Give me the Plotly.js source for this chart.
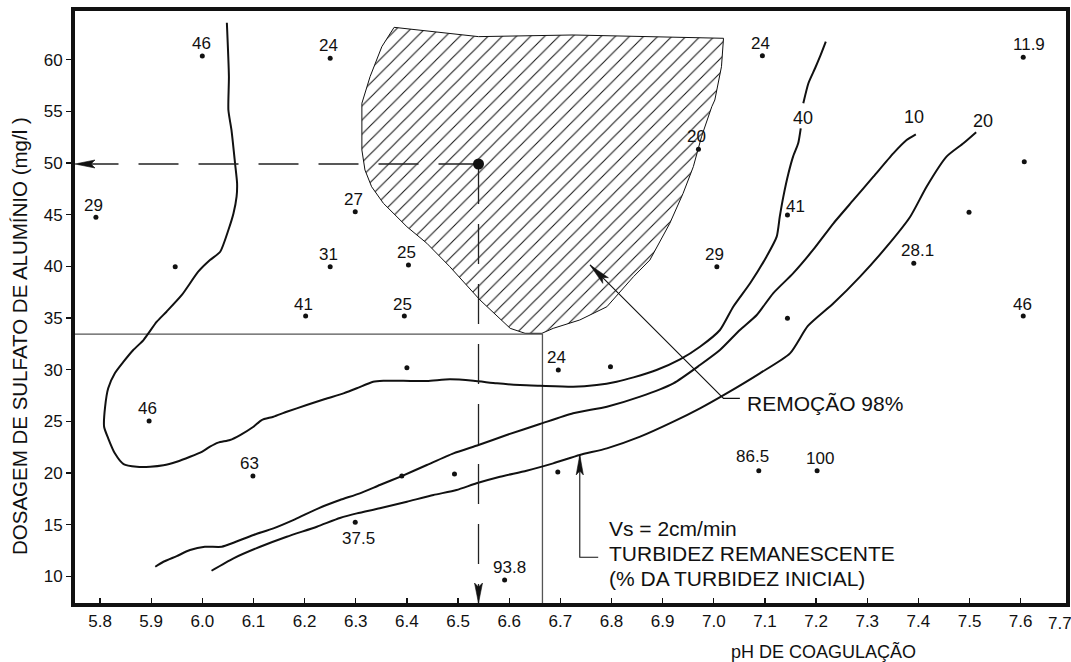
<!DOCTYPE html>
<html><head><meta charset="utf-8">
<script src="https://cdn.plot.ly/plotly-3.0.1.min.js"></script>
<style>html,body{margin:0;padding:0;background:#fff}#chart{width:1071px;height:662px}</style>
</head><body><div id="chart"></div>
<script>
// ---------- data ----------
const xTicks = [5.8,5.9,6.0,6.1,6.2,6.3,6.4,6.5,6.6,6.7,6.8,6.9,7.0,7.1,7.2,7.3,7.4,7.5,7.6];
const xTickLabels = ['5.8','5.9','6.0','6.1','6.2','6.3','6.4','6.5','6.6','6.7','6.8','6.9','7.0','7.1','7.2','7.3','7.4','7.5','7.6'];
const yTicks = [10,15,20,25,30,35,40,45,50,55,60];
const yTickLabels = ['10','15','20','25','30','35','40','45','50','55','60'];

// experimental points: pH, dose, remaining turbidity (%)
const pointPH   = [6.000,6.250,5.792,5.947,6.299,6.250,6.202,6.403,6.395,6.970,7.006,7.095,7.605,7.607,7.144,7.499,7.391,7.605,7.144,5.896,6.099,6.299,6.400,6.696,6.798,6.390,6.493,6.695,6.591,7.088,7.202];
const pointDose = [60.35,60.13,44.74,39.96,45.29,39.96,35.19,40.13,35.19,51.32,39.96,60.38,60.22,50.12,44.97,45.23,40.29,35.19,34.97,25.03,19.71,15.23,30.19,29.97,30.29,19.71,19.91,20.10,9.65,20.23,20.23];
const pointLabels = ['46','24','29','','27','31','41','25','25','20','29','24','11.9','','41','','28.1','46','','46','63','37.5','','24','','','','','93.8','86.5','100'];

// iso-turbidity curve 40 %
const curve40PH   = [6.048,6.052,6.051,6.057,6.064,6.068,6.067,6.061,6.051,6.035,6.015,5.992,5.960,5.930,5.911,5.885,5.865,5.846,5.829,5.816,5.810,5.808,5.816,5.829,5.846,5.872,5.898,5.924,5.950,5.976,5.999,6.015,6.031,6.054,6.074,6.100,6.116,6.139,6.165,6.204,6.240,6.276,6.302,6.334,6.354,6.393,6.439,6.484,6.530,6.576,6.621,6.660,6.725,6.771,6.810,6.843,6.888,6.934,6.973,7.012,7.038,7.071,7.103,7.123,7.129,7.136,7.146,7.155,7.165,7.170,null,7.175,7.185,7.198,7.209,7.219];
const curve40Dose = [63.57,58.35,55.12,53.19,49.97,48.03,46.74,45.13,43.51,41.41,40.61,39.48,37.23,35.61,34.64,32.87,31.90,30.77,29.65,28.20,26.42,24.48,23.36,21.91,20.87,20.61,20.61,20.75,21.10,21.58,22.06,22.55,22.94,23.20,23.68,24.48,25.13,25.45,25.93,26.58,27.16,27.71,28.20,28.84,28.93,28.93,28.90,29.07,28.93,28.68,28.52,28.45,28.35,28.52,28.84,29.26,29.97,31.00,32.22,33.84,36.09,38.36,40.93,42.87,44.80,46.74,49.00,50.61,51.90,53.35,null,55.77,57.71,59.16,60.45,61.73];

// iso-turbidity curve 10 %
const curve10PH   = [5.908,5.924,5.950,5.976,6.005,6.038,6.061,6.100,6.139,6.181,6.227,6.269,6.308,6.347,6.390,6.439,6.491,6.540,6.595,6.660,6.725,6.791,6.856,6.921,6.973,7.012,7.051,7.084,7.116,7.155,7.194,7.234,7.273,7.312,7.351,7.377,7.395];
const curve10Dose = [10.94,11.42,11.97,12.55,12.87,12.87,13.26,14.01,14.65,15.52,16.59,17.39,18.04,18.84,19.71,20.78,21.91,22.71,23.68,24.74,25.78,26.42,27.39,28.68,30.45,31.90,33.84,35.29,37.39,39.32,41.58,44.16,46.42,48.67,50.93,52.22,52.77];

// iso-turbidity curve 20 %
const curve20PH   = [6.018,6.061,6.113,6.165,6.224,6.269,6.302,6.347,6.400,6.452,6.497,6.536,6.582,6.634,6.686,6.738,6.791,6.856,6.921,6.973,7.025,7.090,7.149,7.184,7.234,7.286,7.338,7.384,7.416,7.455,7.488,7.513];
const curve20Dose = [10.55,11.75,12.87,13.84,14.81,15.65,16.10,16.59,17.23,17.88,18.36,19.01,19.65,20.23,20.94,21.75,22.39,23.52,24.97,26.26,27.71,29.65,31.58,34.23,36.42,39.00,41.90,44.80,47.70,50.61,51.90,52.97];

const curveNames = ['40','10','20'];
const curveLabelPH   = [7.174,7.391,7.526];
const curveLabelDose = [54.32,54.48,54.09];

// region of 98 % removal
const zonePH   = [6.375,6.540,6.725,7.019,7.015,7.002,6.996,6.976,6.960,6.940,6.914,6.875,6.843,6.791,6.738,6.686,6.664,6.631,6.602,6.543,6.484,6.439,6.400,6.354,6.331,6.318,6.312,6.312,6.328,6.351,6.375];
const zoneDose = [63.12,62.22,62.38,62.06,59.31,56.09,55.44,52.54,49.64,47.06,44.16,40.61,39.00,36.09,34.81,34.00,33.52,33.52,34.00,36.74,39.96,42.23,43.83,46.10,47.70,49.32,51.25,55.77,58.35,61.25,63.12];

// optimum point and reading lines
const optimumPH = 6.54, optimumDose = 49.9;
const readPH = 6.665, readDose = 33.45;

// annotation pointers
const removalPtrPH = [7.051,7.019,6.758], removalPtrDose = [27.23,27.23,40.13];
const turbPtrPH = [6.774,6.738,6.738],   turbPtrDose = [11.85,11.85,21.75];

// ---------- layout helpers (positions/styles) ----------
const W = 1071, H = 662, M = {l:75, r:5, t:11, b:59};
const xRange = [5.7511, 7.6886];
const yRange = [7.43, 64.70];
const sx = (W - M.l - M.r) / (xRange[1] - xRange[0]);   // px per pH unit
const sy = (H - M.t - M.b) / (yRange[1] - yRange[0]);   // px per mg/l
const labelShift = [[-1,12],[-2,12.5],[-2,12],[0,0],[-2,12],[-2,12],[-2,12],[-2,12.5],[-2,12],[-2,12.5],[-2,12],[-2,12.5],[6,13],[0,0],[8,8],[0,0],[4,12.5],[-1,12],[0,0],[-2,12.5],[-3,12.5],[3,-16.5],[0,0],[-2,12.5],[0,0],[0,0],[0,0],[0,0],[5,12.5],[-6,14.5],[3,12.5]];
const FONT = 'Liberation Sans, Arial, sans-serif';
const INK = '#111';

// narrow notched arrowhead (pixel size) at tip, pointing away from 'from'
function arrowHead(tx, ty, fx, fy, L, hw) {
  let dx = (tx - fx) * sx, dy = (ty - fy) * sy;
  const len = Math.hypot(dx, dy); dx /= len; dy /= len;
  const nx = -dy, ny = dx;
  const pts = [[0,0], [-L*dx + hw*nx, -L*dy + hw*ny], [-0.8*L*dx, -0.8*L*dy], [-L*dx - hw*nx, -L*dy - hw*ny], [0,0]];
  return {x: pts.map(p => tx + p[0]/sx), y: pts.map(p => ty + p[1]/sy), mode:'lines', fill:'toself',
    fillcolor:INK, line:{color:INK, width:0.6}, hoverinfo:'skip'};
}

const traces = [];
// hatched region
traces.push({x: zonePH, y: zoneDose, mode:'lines', fill:'toself', fillcolor:'white',
  fillpattern:{shape:'/', size:10, solidity:0.1, fgcolor:INK, bgcolor:'white'},
  line:{color:INK, width:1}, hoverinfo:'skip'});
// thin reading lines
traces.push({x:[xRange[0], readPH, readPH], y:[readDose, readDose, yRange[0]], mode:'lines',
  line:{color:'#555', width:1.3}, hoverinfo:'skip'});
// curves
[[curve40PH,curve40Dose],[curve10PH,curve10Dose],[curve20PH,curve20Dose]].forEach(c=>{
  traces.push({x:c[0], y:c[1], mode:'lines', connectgaps:false,
    line:{color:INK, width:2, shape:'spline', smoothing:0.6}, hoverinfo:'skip'});
});
// dashed lines from optimum to the axes
traces.push({x:[optimumPH, xRange[0]], y:[optimumDose, optimumDose], mode:'lines',
  line:{color:'#222', width:1.3, dash:'40px,20px'}, hoverinfo:'skip'});
traces.push({x:[optimumPH, optimumPH], y:[optimumDose, yRange[0]], mode:'lines',
  line:{color:'#222', width:1.3, dash:'40px,20px'}, hoverinfo:'skip'});
traces.push(arrowHead(xRange[0], optimumDose, optimumPH, optimumDose, 20, 4));
traces.push(arrowHead(optimumPH, yRange[0], optimumPH, optimumDose, 20, 4));
// pointers
traces.push({x:removalPtrPH, y:removalPtrDose, mode:'lines', line:{color:INK, width:1.1}, hoverinfo:'skip'});
traces.push(arrowHead(removalPtrPH[2], removalPtrDose[2], removalPtrPH[1], removalPtrDose[1], 22, 4));
traces.push({x:turbPtrPH, y:turbPtrDose, mode:'lines', line:{color:INK, width:1.1}, hoverinfo:'skip'});
traces.push(arrowHead(turbPtrPH[2], turbPtrDose[2], turbPtrPH[1], turbPtrDose[1], 20, 3.6));
// points
traces.push({x:pointPH, y:pointDose, mode:'markers', marker:{color:INK, size:5}, hoverinfo:'skip'});
// optimum point
traces.push({x:[optimumPH], y:[optimumDose], mode:'markers', marker:{color:INK, size:11}, hoverinfo:'skip'});

const annotations = [];
pointLabels.forEach((t,i)=>{
  if(!t) return;
  annotations.push({x:pointPH[i], y:pointDose[i], text:t, showarrow:false, xanchor:'center', yanchor:'middle',
    xshift:labelShift[i][0], yshift:labelShift[i][1], font:{size:17, color:INK, family:FONT}});
});
curveNames.forEach((t,i)=>{
  annotations.push({x:curveLabelPH[i], y:curveLabelDose[i], text:t, showarrow:false, xanchor:'center', yanchor:'middle',
    font:{size:18, color:INK, family:FONT}});
});
const big = {size:21, color:INK, family:FONT};
annotations.push({x:7.061, y:26.75, text:'REMOÇÃO 98%', xanchor:'left', yanchor:'middle', showarrow:false, font:big});
annotations.push({x:6.7906, y:14.65, text:'Vs = 2cm/min', xanchor:'left', yanchor:'middle', showarrow:false, font:big});
annotations.push({x:6.7906, y:12.23, text:'TURBIDEZ REMANESCENTE', xanchor:'left', yanchor:'middle', showarrow:false, font:big});
annotations.push({x:6.7906, y:9.82, text:'(% DA TURBIDEZ INICIAL)', xanchor:'left', yanchor:'middle', showarrow:false, font:big});
// axis titles and last tick label
annotations.push({xref:'paper', yref:'paper', x:0.7548, y:-0.0823, xanchor:'center', yanchor:'middle', text:'pH DE COAGULAÇÃO', showarrow:false, font:{size:18,color:INK,family:FONT}});
annotations.push({xref:'paper', yref:'paper', x:-0.0565, y:0.451, xanchor:'center', yanchor:'middle', text:'DOSAGEM DE SULFATO DE ALUMÍNIO (mg/l )', textangle:-90, showarrow:false, font:{size:20.5,color:INK,family:FONT}});
annotations.push({xref:'paper', yref:'paper', x:0.994, y:-0.0338, xanchor:'center', yanchor:'middle', text:'7.7', showarrow:false, font:{size:17,color:INK,family:FONT}});

const layout = {
  width:W, height:H, margin:M,
  paper_bgcolor:'white', plot_bgcolor:'white', showlegend:false,
  font:{family:FONT, color:INK},
  xaxis:{range:xRange, tickvals:xTicks, ticktext:xTickLabels, ticks:'inside', ticklen:5, tickwidth:1.3, tickcolor:INK, automargin:false,
    showline:true, linewidth:4, linecolor:INK, mirror:true, showgrid:false, zeroline:false, tickfont:{size:17, color:INK}},
  yaxis:{range:yRange, tickvals:yTicks, ticktext:yTickLabels, ticks:'outside', ticklen:5, tickwidth:1.3, tickcolor:INK, automargin:false,
    showline:true, linewidth:4, linecolor:INK, mirror:true, showgrid:false, zeroline:false, tickfont:{size:17, color:INK}},
  annotations: annotations
};
Plotly.newPlot('chart', traces, layout, {displayModeBar:false, staticPlot:true});
</script></body></html>
